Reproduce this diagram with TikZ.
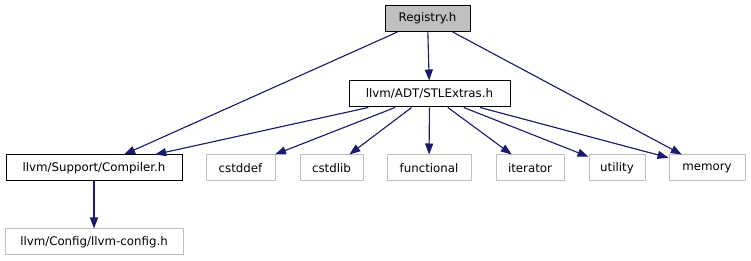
\documentclass[tikz,border=0pt]{standalone}
\usepackage{fontspec}
\setmainfont{DejaVu Sans}
\usetikzlibrary{arrows.meta}
\definecolor{edgeblue}{HTML}{191970}
\definecolor{extgray}{HTML}{BFBFBF}
\begin{document}
\begin{tikzpicture}[x=1pt,y=-1pt,
  hdr/.style={draw=black,line width=1pt,inner sep=0pt,minimum height=26pt,
    font=\fontsize{11.8}{14}\selectfont,anchor=center},
  ext/.style={hdr,draw=extgray},
  cur/.style={hdr,fill=extgray},
  dep/.style={draw=edgeblue,line width=1.1pt,
    -{Triangle[length=11pt,width=8pt]},fill=edgeblue}]
\useasboundingbox (0,0) rectangle (751,261);
% header nodes
\node[cur,minimum width=85pt]  (reg)  at (427.5,18.5) {Registry.h};
\node[hdr,minimum width=161pt] (stl)  at (429.5,94)   {llvm/ADT/STLExtras.h};
\node[hdr,minimum width=176pt] (comp) at (94,168)     {llvm/Support/Compiler.h};
\node[ext,minimum width=178pt] (cfg)  at (94,242)     {llvm/Config/llvm-config.h};
\node[ext,minimum width=69pt]  (cdef) at (240.5,168)  {cstddef};
\node[ext,minimum width=63pt]  (clib) at (331.5,168)  {cstdlib};
\node[ext,minimum width=84pt]  (func) at (429,168)    {functional};
\node[ext,minimum width=68pt]  (iter) at (530,168)    {iterator};
\node[ext,minimum width=56pt]  (util) at (617,168)    {utility};
\node[ext,minimum width=76pt]  (mem)  at (707,168)    {memory};
% include edges
\draw[dep] (reg) -- (stl);
\draw[dep] (reg) -- (comp);
\draw[dep] (reg) -- (mem);
\draw[dep] (stl) -- (comp);
\draw[dep] (stl) -- (cdef);
\draw[dep] (stl) -- (clib);
\draw[dep] (stl) -- (func);
\draw[dep] (stl) -- (iter);
\draw[dep] (stl) -- (util);
\draw[dep] (stl) -- (mem);
\draw[dep] (comp) -- (cfg);
\end{tikzpicture}
\end{document}
